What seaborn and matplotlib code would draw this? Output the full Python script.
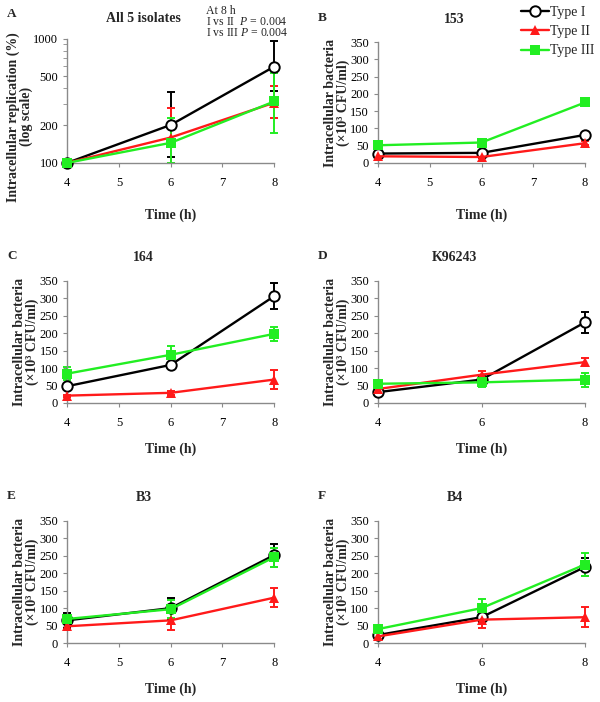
import numpy as np
import pandas as pd
import matplotlib
matplotlib.use("Agg")
import matplotlib.pyplot as plt
import seaborn as sns
from matplotlib.ticker import FixedLocator, NullFormatter

sns.set_style("ticks")
plt.rcParams['font.family'] = ['Liberation Serif', 'DejaVu Serif']
plt.rcParams['mathtext.fontset'] = 'custom'
plt.rcParams['mathtext.it'] = 'Liberation Serif:italic'
plt.rcParams['mathtext.rm'] = 'Liberation Serif'

# dados
hours = [4, 6, 8]
types = ['Type I', 'Type II', 'Type III']

# painel A (% , escala log) - erros assimetricos (abaixo, acima)
a_type1 = [100, 202, 595]
a_type1_lo = [0, 90, 215]
a_type1_hi = [0, 167, 356]
a_type2 = [100, 160, 305]
a_type2_lo = [0, 60, 75]
a_type2_hi = [0, 118, 107]
a_type3 = [100, 145, 312]
a_type3_lo = [0, 45, 137]
a_type3_hi = [0, 85, 218]

# paineis B-F (x10^3 CFU/ml)
b_means = {'Type I': [27, 29, 81], 'Type II': [19, 17, 57], 'Type III': [51, 59, 175]}
b_err = {'Type I': [3, 3, 5], 'Type II': [3, 3, 6], 'Type III': [4, 8, 10]}
c_means = {'Type I': [48, 109, 306], 'Type II': [21, 29, 67], 'Type III': [84, 138, 198]}
c_err = {'Type I': [5, 8, 38], 'Type II': [3, 5, 26], 'Type III': [19, 26, 21]}
d_means = {'Type I': [31, 67, 231], 'Type II': [40, 81, 117], 'Type III': [55, 59, 67]}
d_err = {'Type I': [4, 5, 30], 'Type II': [4, 10, 12], 'Type III': [5, 12, 20]}
e_means = {'Type I': [65, 100, 252], 'Type II': [48, 65, 130], 'Type III': [69, 97, 246]}
e_err = {'Type I': [22, 30, 33], 'Type II': [10, 28, 28], 'Type III': [5, 25, 27]}
f_means = {'Type I': [23, 74, 218], 'Type II': [19, 67, 74], 'Type III': [40, 100, 225]}
f_err = {'Type I': [4, 15, 25], 'Type II': [3, 25, 28], 'Type III': [5, 26, 32]}

cores = {'Type I': 'black', 'Type II': '#ff1a1a', 'Type III': '#22ee22'}
marcadores = {'Type I': dict(marker='o', markersize=7.5, markerfacecolor='white',
                             markeredgecolor='black', markeredgewidth=1.4),
              'Type II': dict(marker='^', markersize=6.5, markeredgewidth=0),
              'Type III': dict(marker='s', markersize=6.5, markeredgewidth=0)}

fig = plt.figure(figsize=(6, 7.02), dpi=100)

# posicoes dos eixos em fracao da figura
w = 0.345
pos = {'A': [0.112, 0.768, w, 0.177],
       'B': [0.630, 0.768, w, 0.172],
       'C': [0.112, 0.426, w, 0.174],
       'D': [0.630, 0.426, w, 0.174],
       'E': [0.112, 0.084, w, 0.174],
       'F': [0.630, 0.084, w, 0.174]}
titulos = {'A': 'All 5 isolates', 'B': '153', 'C': '164', 'D': 'K96243', 'E': 'B3', 'F': 'B4'}
spine_cor = '#8a8a8a'


def estilo(ax, xt, lp=10):
    sns.despine(ax=ax)
    for s in ['left', 'bottom']:
        ax.spines[s].set_color(spine_cor)
        ax.spines[s].set_linewidth(1.0)
    ax.tick_params(axis='both', colors=spine_cor, labelcolor='black', labelsize=9,
                   length=3, direction='out', width=0.8)
    ax.tick_params(axis='x', pad=7)
    ax.set_xlim(4, 8)
    ax.set_xticks(xt)
    ax.set_xlabel('Time (h)', fontsize=10, fontweight='bold', labelpad=lp)


def desenha(ax, medias, lo, hi):
    for t in types:
        df = pd.DataFrame({'hour': hours, 'value': medias[t]})
        ax.errorbar(hours, medias[t], yerr=[lo[t], hi[t]], fmt='none', ecolor=cores[t],
                    elinewidth=1.4, capsize=3, capthick=1.4, clip_on=False, zorder=2)
        sns.lineplot(data=df, x='hour', y='value', ax=ax, color=cores[t], linewidth=1.7,
                     label=t, clip_on=False, zorder=3, **marcadores[t])


# painel A
ax = fig.add_axes(pos['A'])
desenha(ax, {'Type I': a_type1, 'Type II': a_type2, 'Type III': a_type3},
        {'Type I': a_type1_lo, 'Type II': a_type2_lo, 'Type III': a_type3_lo},
        {'Type I': a_type1_hi, 'Type II': a_type2_hi, 'Type III': a_type3_hi})
ax.set_yscale('log')
ax.set_ylim(100, 1000)
ax.yaxis.set_major_locator(FixedLocator([100, 200, 500, 1000]))
ax.yaxis.set_minor_locator(FixedLocator([300, 400, 600, 700, 800, 900]))
ax.yaxis.set_minor_formatter(NullFormatter())
ax.set_yticklabels(['100', '200', '500', '1000'])
estilo(ax, [4, 5, 6, 7, 8], lp=14)
ax.tick_params(axis='y', which='minor', colors=spine_cor, length=3)
ax.set_ylabel('Intracellular replication (%)\n(log scale)', fontsize=10,
              fontweight='bold', linespacing=1.0)
ax.yaxis.set_label_coords(-0.165, 0.37)
ax.get_legend().remove()
ax.text(0.67, 1.27, 'At 8 h', transform=ax.transAxes, fontsize=8.5, va='top')
ax.text(0.67, 1.18, r'I vs II  $\mathit{P}$ = 0.004', transform=ax.transAxes, fontsize=8.5, va='top')
ax.text(0.67, 1.09, r'I vs III $\mathit{P}$ = 0.004', transform=ax.transAxes, fontsize=8.5, va='top')

dados = {'B': (b_means, b_err), 'C': (c_means, c_err), 'D': (d_means, d_err),
         'E': (e_means, e_err), 'F': (f_means, f_err)}
eixos = {'A': ax}
for p, (m, e) in dados.items():
    ax = fig.add_axes(pos[p])
    desenha(ax, m, e, e)
    ax.set_ylim(0, 350)
    ax.set_yticks(np.arange(0, 351, 50))
    estilo(ax, [4, 6, 8] if p in ('D', 'F') else [4, 5, 6, 7, 8], lp=14 if p == 'B' else 10)
    ax.set_ylabel('Intracellular bacteria\n(×10³ CFU/ml)', fontsize=10,
                  fontweight='bold', labelpad=0, linespacing=1.0)
    if p == 'B':
        ax.legend(loc='upper left', bbox_to_anchor=(0.69, 1.30), frameon=False,
                  fontsize=10, handlelength=2.0, handletextpad=0.1, labelspacing=0.45,
                  borderaxespad=0, borderpad=0)
    else:
        ax.get_legend().remove()
    eixos[p] = ax

for p, ax in eixos.items():
    ax.set_title(titulos[p], fontsize=10, fontweight='bold', x=0.37,
                 pad=14 if p != 'A' else 12)
    ax.text(-0.29, 1.2, p, transform=ax.transAxes, fontsize=9.5, fontweight='bold',
            va='center')

fig.savefig('out.png', dpi=100)
